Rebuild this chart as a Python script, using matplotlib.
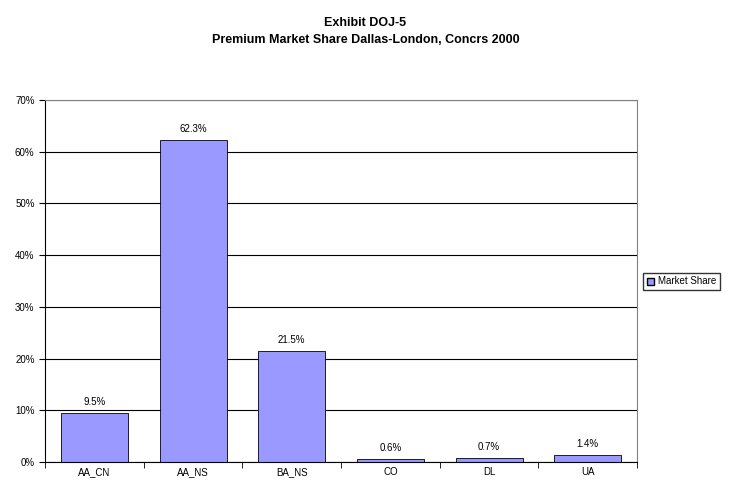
import matplotlib.pyplot as plt
from matplotlib.patches import Patch

carriers = ["AA_CN", "AA_NS", "BA_NS", "CO", "DL", "UA"]
share = [9.5, 62.3, 21.5, 0.6, 0.7, 1.4]
labels = ["9.5%", "62.3%", "21.5%", "0.6%", "0.7%", "1.4%"]
yticks = [0, 10, 20, 30, 40, 50, 60, 70]

plt.rcParams["font.family"] = "Liberation Sans"
fig = plt.figure(figsize=(7.31, 5), dpi=100)
ax = fig.add_axes([0.0616, 0.076, 0.81, 0.724])
ax.set_axisbelow(True)
ax.yaxis.grid(True, color="black", linewidth=0.8)
x = range(len(carriers))
ax.bar(x, share, width=0.68, color="#9999FF", edgecolor="black", linewidth=0.6)
for xi, v, t in zip(x, share, labels):
    ax.text(xi, v + 1.2, t, ha="center", va="bottom", fontsize=7)
ax.set_xlim(-0.5, len(carriers) - 0.5)
ax.set_ylim(0, 70)
ax.set_yticks(yticks)
ax.set_yticklabels([f"{t}%" for t in yticks], fontsize=7)
ax.set_xticks(list(x))
ax.set_xticklabels(carriers, fontsize=7)
ax.set_xticks([i + 0.5 for i in range(-1, len(carriers))], minor=True)
ax.tick_params(axis="x", which="major", length=0)
ax.tick_params(axis="x", which="minor", length=4)
ax.tick_params(axis="y", length=4)
for s in ax.spines.values():
    s.set_color("#808080")
ax.spines["bottom"].set_color("black")
ax.spines["left"].set_color("black")
fig.text(0.5, 0.965, "Exhibit DOJ-5\nPremium Market Share Dallas-London, Concrs 2000",
         ha="center", va="top", fontsize=9, fontweight="bold", linespacing=1.5)
fig.legend(handles=[Patch(facecolor="#9999FF", edgecolor="black", label="Market Share")],
           loc="center left", bbox_to_anchor=(0.873, 0.437), fontsize=7, frameon=True,
           fancybox=False, edgecolor="black", handlelength=0.7, handleheight=0.7,
           borderpad=0.4, handletextpad=0.4)
fig.savefig("out.png", dpi=100, facecolor="white")
